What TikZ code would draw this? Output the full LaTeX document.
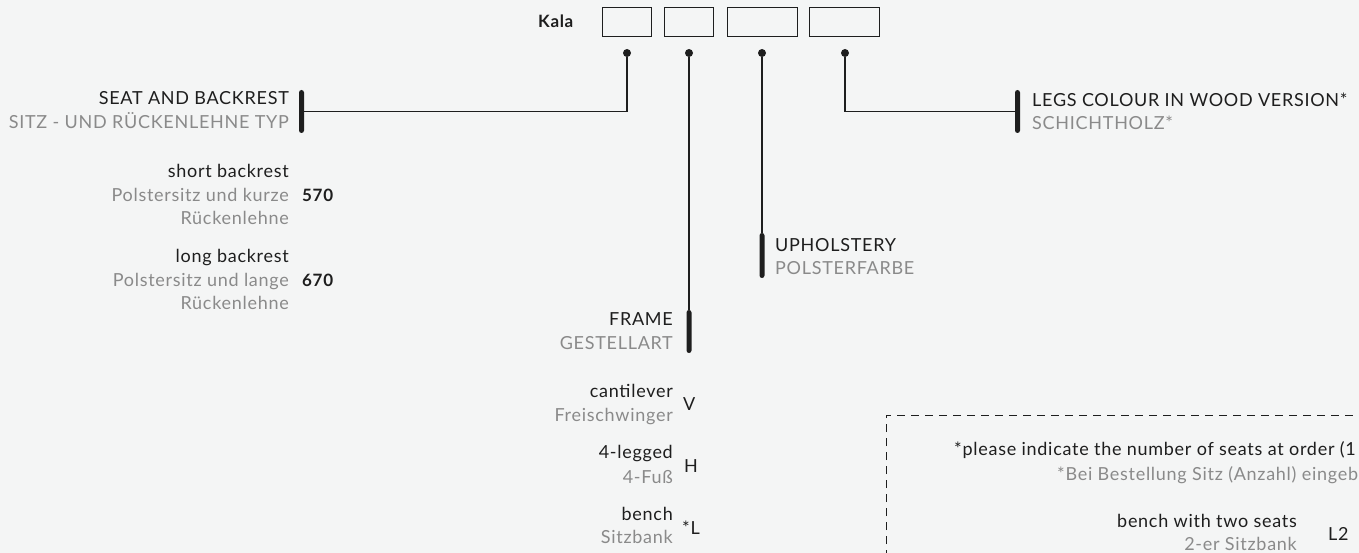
\documentclass[tikz,border=0pt]{standalone}
\usepackage{fontspec}
\setmainfont{Lato}[LetterSpace=4]
\usetikzlibrary{positioning}
\definecolor{paper}{HTML}{F4F5F5}
\definecolor{ink}{HTML}{1E1E1E}
\definecolor{greytxt}{HTML}{8A8A8A}
\tikzset{
  lbl/.style={inner sep=0pt, font=\fontsize{18}{21}\selectfont, text=ink},
  sublbl/.style={lbl, text=greytxt},
  code/.style={inner sep=0pt, font=\fontsize{17}{20}\selectfont\bfseries, text=ink},
  slot/.style={draw=ink, line width=0.8pt, minimum height=29pt, inner sep=0pt},
  dot/.style={circle, fill=ink, inner sep=0pt, minimum size=8pt},
  bar/.style={fill=ink, rounded corners=2.5pt, minimum width=5pt, minimum height=43pt, inner sep=0pt},
  conn/.style={draw=ink, line width=1.2pt},
}
\begin{document}
\begin{tikzpicture}[x=1pt,y=-1pt]
  \fill[paper] (0,0) rectangle (1359,553);
  \useasboundingbox (0,0) rectangle (1359,553);
  \clip (0,0) rectangle (1359,553);

  \node[code, anchor=base west] (kala) at (538,28) {Kala};
  \node[slot, minimum width=49pt] (s1) at (626.5,21.5) {};
  \node[slot, minimum width=49pt] (s2) at (688.5,21.5) {};
  \node[slot, minimum width=70pt] (s3) at (762,21.5) {};
  \node[slot, minimum width=70pt] (s4) at (844,21.5) {};

  \node[dot] (d1) at (627,53) {};
  \node[dot] (d2) at (689,53) {};
  \node[dot] (d3) at (762,53) {};
  \node[dot] (d4) at (845,53) {};

  \node[bar] (seatbar) at (301.5,111.5) {};
  \node[bar] (legsbar) at (1017.5,111.5) {};
  \node[bar, minimum height=45pt] (upholbar) at (762,255.5) {};
  \node[bar] (framebar) at (689,331.5) {};

  \draw[conn] (d1) |- (seatbar);
  \draw[conn] (d2) -- (framebar);
  \draw[conn] (d3) -- (upholbar);
  \draw[conn] (d4) |- (legsbar);

  % seat and backrest
  \node[lbl, anchor=base east] (seat) at (289,105) {SEAT AND BACKREST};
  \node[sublbl, anchor=base east] (sitz) at (289,129) {SITZ - UND RÜCKENLEHNE TYP};
  \node[lbl, anchor=base east] (short) at (289,178) {short backrest};
  \node[sublbl, anchor=base east] (kurz) at (289,202) {Polstersitz und kurze};
  \node[sublbl, anchor=base east] (kurzb) at (289,225) {Rückenlehne};
  \node[code, anchor=base west] (c570) at (302,202) {570};
  \node[lbl, anchor=base east] (long) at (289,262) {long backrest};
  \node[sublbl, anchor=base east] (lang) at (289,286) {Polstersitz und lange};
  \node[sublbl, anchor=base east] (langb) at (289,309) {Rückenlehne};
  \node[code, anchor=base west] (c670) at (302,286) {670};

  % frame
  \node[lbl, anchor=base east] (frame) at (673,325) {FRAME};
  \node[sublbl, anchor=base east] (gestell) at (673,349) {GESTELLART};
  \node[lbl, anchor=base east] (canti) at (673,397) {cantilever};
  \node[sublbl, anchor=base east] (frei) at (673,421) {Freischwinger};
  \node[lbl, anchor=base west] (cV) at (683,410) {V};
  \node[lbl, anchor=base east] (four) at (673,458) {4-legged};
  \node[sublbl, anchor=base east] (fuss) at (673,483) {4-Fuß};
  \node[lbl, anchor=base west] (cH) at (684,472) {H};
  \node[lbl, anchor=base east] (bench) at (673,520) {bench};
  \node[sublbl, anchor=base east] (sitzbank) at (673,543) {Sitzbank};
  \node[lbl, anchor=base west] (cL) at (682,534) {*L};

  % upholstery and legs
  \node[lbl, anchor=base west] (uphol) at (775,252) {UPHOLSTERY};
  \node[sublbl, anchor=base west] (polster) at (775,275) {POLSTERFARBE};
  \node[lbl, anchor=base west] (legs) at (1032,107) {LEGS COLOUR IN WOOD VERSION*};
  \node[sublbl, anchor=base west] (schicht) at (1032,130) {SCHICHTHOLZ*};

  % note box
  \draw[ink, line width=0.9pt, dash pattern=on 8pt off 6pt] (886,600) |- (1400,415);
  \node[lbl, anchor=base west] (note) at (954,455) {*please indicate the number of seats at order (1};
  \node[sublbl, anchor=base west] (notede) at (1057,480) {*Bei Bestellung Sitz (Anzahl) eingeb};
  \node[lbl, anchor=base east] (two) at (1297,527) {bench with two seats};
  \node[sublbl, anchor=base east] (zweier) at (1297,550) {2-er Sitzbank};
  \node[lbl, anchor=base west] (cL2) at (1328,540) {L2};
\end{tikzpicture}
\end{document}
